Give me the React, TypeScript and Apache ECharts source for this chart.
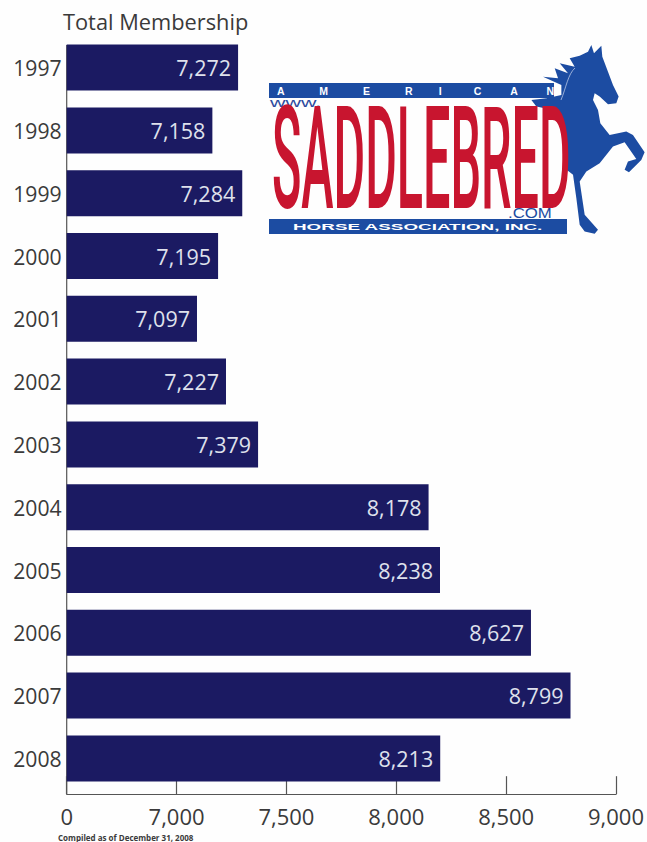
import React, { useEffect, useRef } from "react";
import * as echarts from "echarts";

const years = ["1997", "1998", "1999", "2000", "2001", "2002", "2003", "2004", "2005", "2006", "2007", "2008"];
const printedLabels = ["7,272", "7,158", "7,284", "7,195", "7,097", "7,227", "7,379", "8,178", "8,238", "8,627", "8,799", "8,213"];
// Bar lengths as drawn in the picture (they differ slightly from the printed figures)
const drawnValues = [7280, 7163, 7299, 7189, 7093, 7225, 7371, 8147, 8199, 8613, 8793, 8200];
const tickLabels = ["0", "7,000", "7,500", "8,000", "8,500", "9,000"];
const axisMin = 6500;
const axisMax = 9000;
const axisStep = 500;

const FONT = "'Open Sans', sans-serif";
const LOGO_BLUE = "#1c4ca2";
const LOGO_RED = "#c8152f";

const horsePath =
  "M995 30 L1003 55 L1025 32 L1028 65 L1045 110 L1060 150 L1077 185 L1070 205 L1045 208 L1020 185 L1005 175 L1000 195 " +
  "L1015 225 L1022 265 L1050 300 L1100 290 L1120 300 L1155 352 L1145 375 L1108 412 L1095 405 L1105 380 L1130 372 L1095 322 " +
  "L1060 335 L1020 385 L980 410 L960 440 L975 540 L1015 585 L1005 597 L975 590 L960 570 L950 490 L940 420 L915 400 " +
  "L905 240 L880 225 L830 215 L815 195 L860 190 L905 180 L905 150 L850 125 L895 130 L885 100 L925 115 L900 85 L945 95 " +
  "L930 70 L960 62 L985 50 Z";

echarts.graphic.registerShape("horse", echarts.graphic.extendPath(horsePath, {}));

export default function App() {
  const ref = useRef<HTMLDivElement>(null);
  useEffect(() => {
    document.body.style.margin = "0";
    const chart = echarts.init(ref.current!, undefined, { renderer: "svg" });
    chart.setOption({
      animation: false,
      backgroundColor: "#fefefe",
      title: [
        {
          text: "Total Membership",
          left: 63,
          top: 10,
          padding: 0,
          textStyle: { fontFamily: FONT, fontSize: 21.8, fontWeight: "normal", color: "#3a3a3a" },
        },
        {
          text: "Compiled as of December 31, 2008",
          left: 58,
          top: 833,
          padding: 0,
          textStyle: { fontFamily: FONT, fontSize: 8, fontWeight: "bold", color: "#3a3a3a" },
        },
      ],
      grid: { left: 66.7, width: 549.3, top: 36.2, height: 753.6, containLabel: false },
      xAxis: {
        type: "value",
        min: axisMin,
        max: axisMax,
        interval: axisStep,
        offset: 4.4,
        splitLine: { show: false },
        axisLine: { show: true, lineStyle: { color: "#555", width: 1.2 } },
        axisTick: { show: true, inside: true, length: 18, lineStyle: { color: "#555", width: 1.2 } },
        axisLabel: {
          margin: 11,
          fontFamily: FONT,
          fontSize: 22,
          color: "#3a3a3a",
          hideOverlap: false,
          formatter: (_v: number, i: number) => tickLabels[i],
        },
      },
      yAxis: {
        type: "category",
        inverse: true,
        data: years,
        axisLine: { show: false },
        axisTick: { show: false },
        axisLabel: { margin: 5, fontFamily: FONT, fontSize: 21.2, color: "#3a3a3a" },
      },
      series: [
        {
          type: "bar",
          data: drawnValues,
          barWidth: 46,
          itemStyle: { color: "#1b1a62" },
          label: {
            show: true,
            position: "insideRight",
            distance: 7,
            fontFamily: FONT,
            fontSize: 21.5,
            color: "#dfe1ec",
            formatter: (p: any) => printedLabels[p.dataIndex],
          },
        },
      ],
      graphic: [
        { type: "line", silent: true, z: 1, shape: { x1: 66.7, y1: 45, x2: 66.7, y2: 794 }, style: { stroke: "#555", lineWidth: 1.2 } },
        { type: "horse", x: 260, y: 35, scaleX: 1 / 3, scaleY: 1 / 3, z: 10, style: { fill: LOGO_BLUE } },
        { type: "bezierCurve", z: 10, shape: { x1: 575, y1: 68, cpx1: 568, cpy1: 74, cpx2: 566, cpy2: 88, x2: 561, y2: 100 }, style: { stroke: "#cfd9ee", lineWidth: 0.7, fill: "none" } },
        { type: "rect", z: 10, shape: { x: 269, y: 83, width: 285, height: 15 }, style: { fill: LOGO_BLUE } },
        { type: "rect", z: 10, shape: { x: 269, y: 219, width: 298, height: 15 }, style: { fill: LOGO_BLUE } },
        {
          type: "text", z: 13, x: 277, y: 90.5,
          style: { text: "A            M            E            R         I           C          A          N", fill: "#fff", font: "bold 10.5px 'Liberation Sans'", verticalAlign: "middle" },
        },
        {
          type: "text", z: 11, x: 270, y: 103, scaleX: 1.65,
          style: { text: "www.", fill: "#2d4a9e", font: "13px 'Liberation Sans'", verticalAlign: "middle" },
        },
        {
          type: "text", z: 12, x: 272, y: 159.5, scaleY: 2.93,
          style: { text: "SADDLEBRED", fill: LOGO_RED, font: "500 48.5px Roboto", verticalAlign: "middle" },
        },
        {
          type: "text", z: 12, x: 508, y: 213.5, scaleX: 1.2,
          style: { text: ".COM", fill: LOGO_BLUE, font: "14px 'Liberation Sans'", verticalAlign: "middle" },
        },
        {
          type: "text", z: 11, x: 293, y: 227, scaleX: 2.22,
          style: { text: "HORSE ASSOCIATION, INC.", fill: "#fff", font: "bold 8.5px 'Liberation Sans'", verticalAlign: "middle" },
        },
      ],
    });
    return () => chart.dispose();
  }, []);
  return <div ref={ref} style={{ position: "absolute", left: 0, top: 0, width: 647, height: 842 }} />;
}
